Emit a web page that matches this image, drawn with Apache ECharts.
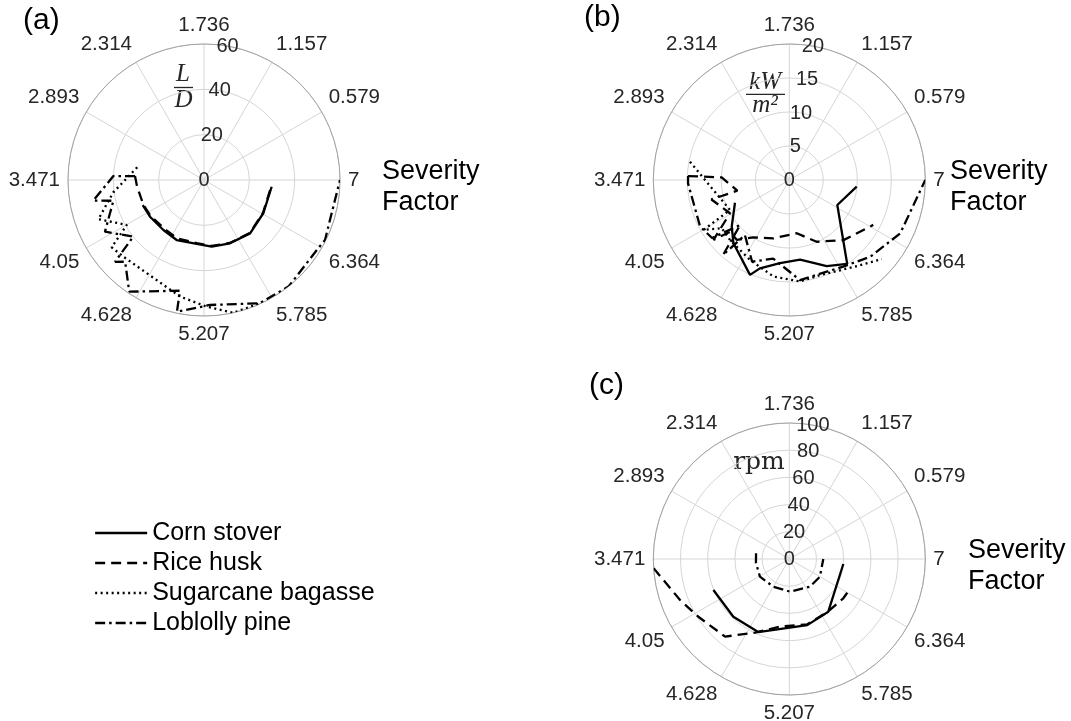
<!DOCTYPE html>
<html><head><meta charset="utf-8">
<script src="https://cdn.jsdelivr.net/npm/echarts@6/dist/echarts.min.js"></script>
<style>html,body{margin:0;padding:0;background:#fff}#c{width:1071px;height:721px}</style>
</head><body><div id="c"></div>
<script>
// ---- angle (severity factor) axis ----
const SF_STEP = 0.57855;               // one 30-degree sector
const SF_MAX = 12 * SF_STEP;           // full turn
const ANG_MIN = 3 * SF_STEP;           // value at the top (90 deg)
const ANGLE_LABELS = ['1.736','2.314','2.893','3.471','4.05','4.628','5.207','5.785','6.364','7','0.579','1.157'];
const SERIES_NAMES = ['Corn stover','Rice husk','Sugarcane bagasse','Loblolly pine'];

// ---- (a) L/D  : [severity factor, value] ----
const a_corn  = [[3.900,29.2],[4.131,28.8],[4.453,28.4],[4.735,29.1],[5.082,28.4],[5.334,29.6],[5.637,30.2],[5.994,31.1],[6.378,30.0],[6.833,30.0]];
const a_rice  = [[3.408,30.5],[3.570,29.7],[3.900,28.9],[4.131,28.4],[4.453,27.7],[4.735,28.3],[5.082,28.0],[5.334,29.3],[5.637,30.0],[5.994,30.9],[6.378,29.8],[6.833,29.8]];
const a_sugar = [[3.263,30.0],[3.621,40.4],[3.864,49.7],[4.054,39.4],[4.167,50.4],[4.310,49.1],[4.983,52.5],[5.231,55.9],[5.446,60.0],[5.677,59.7]];
const a_lob   = [[3.408,30.5],[3.423,40.0],[3.675,49.7],[3.720,41.0],[4.003,49.3],[4.217,40.0],[4.293,53.3],[4.359,50.1],[4.555,59.3],[4.971,50.0],[4.983,59.3],[5.260,55.2],[5.677,59.7],[5.951,60.0],[6.347,58.7],[6.434,59.6],[6.604,58.3],[6.943,60.0]];

// ---- (b) kW/m^2 ----
const b_corn  = [[3.909,8.66],[4.224,10.9],[4.407,12.4],[4.773,15.1],[4.852,13.7],[5.084,12.3],[5.356,11.8],[5.660,13.8],[5.874,15.0],[6.412,7.96],[6.833,9.96]];
const b_rice  = [[3.428,14.9],[3.428,9.95],[3.695,7.8],[3.742,11.8],[4.036,10.0],[4.210,14.2],[4.264,11.6],[4.413,11.7],[4.588,9.95],[4.912,8.9],[5.360,7.9],[5.668,9.93],[6.017,11.9],[6.400,14.0]];
const b_sugar = [[3.270,14.85],[3.988,9.78],[4.054,14.6],[4.156,12.2],[4.346,12.4],[4.702,13.1],[5.030,14.4],[5.323,15.0],[5.552,14.7],[5.910,15.9],[6.160,17.9]];
const b_lob   = [[3.428,14.9],[3.508,14.9],[4.003,14.8],[4.183,14.2],[4.290,9.8],[4.407,14.7],[4.457,10.4],[4.735,13.2],[4.984,11.8],[5.325,14.8],[5.823,15.0],[6.103,16.4],[6.447,18.1],[6.943,20.0]];

// ---- (c) rpm ----
const c_corn  = [[3.900,60.3],[4.356,59.1],[4.762,58.4],[5.500,50.4],[5.911,48.2],[6.841,39.9]];
const c_rice  = [[3.547,100],[3.868,85.8],[4.096,79.2],[4.443,74.1],[4.725,59.7],[5.056,50.2],[5.500,49.8],[5.911,48.0],[6.248,49.1],[6.417,49.6]];
const c_lob   = [[3.284,24.8],[3.600,24.7],[4.071,25.2],[4.628,23.5],[5.230,24.0],[5.916,25.4],[6.364,26.0],[6.943,25.0]];

const R_MAX = [60, 20, 100];
const R_INT = [20, 5, 20];

const PANELS = [
  {center:[204,180],   series:[a_corn,a_rice,a_sugar,a_lob]},
  {center:[789.3,180], series:[b_corn,b_rice,b_sugar,b_lob]},
  {center:[789.3,559], series:[c_corn,c_rice,null,c_lob]}
];
const RADIUS = 136;
const LINE_TYPES = ['solid',[10,6],[2,3.5],[10,4,2.5,4]];
const SANS = '"Liberation Sans", Arial, Helvetica, sans-serif';
const SERIF = '"Liberation Serif", "DejaVu Serif", serif';
const LABEL_COLOR = '#262626';

const polar = [], angleAxis = [], radiusAxis = [], series = [];
PANELS.forEach((p, i) => {
  polar.push({center:p.center, radius:RADIUS});
  polar.push({center:p.center, radius:RADIUS});
  angleAxis.push({
    polarIndex:2*i, type:'value', min:ANG_MIN, max:ANG_MIN+SF_MAX, interval:SF_STEP,
    startAngle:90, clockwise:false,
    axisLine:{show:true, lineStyle:{color:'#a3a3a3', width:1}},
    axisTick:{show:false},
    splitLine:{show:true, lineStyle:{color:'#d6d6d6', width:1}},
    axisLabel:{margin:8, fontSize:20.5, color:LABEL_COLOR, fontFamily:SANS,
      formatter:(v)=>{const k=Math.round((v-ANG_MIN)/SF_STEP); return k>=12?'':ANGLE_LABELS[k];}}
  });
  radiusAxis.push({
    polarIndex:2*i, type:'value', min:0, max:R_MAX[i], interval:R_INT[i],
    axisLine:{show:false}, axisTick:{show:false}, axisLabel:{show:false},
    splitLine:{show:true, lineStyle:{color:'#d6d6d6', width:1}}
  });
  // overlay polar only carrying the radius labels along the 80-degree ray
  angleAxis.push({polarIndex:2*i+1, type:'value', min:0, max:360, startAngle:80, show:false});
  radiusAxis.push({
    polarIndex:2*i+1, type:'value', min:0, max:R_MAX[i], interval:R_INT[i],
    axisLine:{show:false}, axisTick:{show:false}, splitLine:{show:false},
    axisLabel:{show:true, margin:0, align:'center', verticalAlign:'middle', fontSize:20, color:LABEL_COLOR, fontFamily:SANS}
  });
  p.series.forEach((arr, k) => {
    if (!arr) return;
    series.push({
      type:'line', name:SERIES_NAMES[k], coordinateSystem:'polar', polarIndex:2*i,
      data:arr.map(d=>[d[1], d[0]]), symbol:'none', showSymbol:false, silent:true,
      itemStyle:{color:'#000'},
      lineStyle:{color:'#000', width:2.3, type:LINE_TYPES[k]}
    });
  });
});

function txt(text, x, y, font, align, valign, extra) {
  return {type:'text', silent:true, style:Object.assign({text, x, y, font, fill:'#000', align, verticalAlign:valign}, extra||{})};
}
const sevFont = '27px ' + SANS;
const graphic = [
  txt('(a)', 23, 6, '30px '+SANS, 'left', 'top'),
  txt('(b)', 584, 3, '30px '+SANS, 'left', 'top'),
  txt('(c)', 589, 371, '30px '+SANS, 'left', 'top'),
  txt('Severity\nFactor', 382, 156, sevFont, 'left', 'top', {lineHeight:31}),
  txt('Severity\nFactor', 950, 156, sevFont, 'left', 'top', {lineHeight:31}),
  txt('Severity\nFactor', 968, 535, sevFont, 'left', 'top', {lineHeight:31}),
  // (a) L/D
  txt('L', 183, 74, 'italic 25px '+SERIF, 'center', 'middle', {fill:LABEL_COLOR}),
  {type:'line', silent:true, shape:{x1:174, y1:87.5, x2:193, y2:87.5}, style:{stroke:LABEL_COLOR, lineWidth:1.3}},
  txt('D', 183.5, 100, 'italic 25px '+SERIF, 'center', 'middle', {fill:LABEL_COLOR}),
  // (b) kW/m^2
  txt('kW', 765, 82, 'italic 25px '+SERIF, 'center', 'middle', {fill:LABEL_COLOR}),
  {type:'line', silent:true, shape:{x1:746, y1:94.3, x2:785, y2:94.3}, style:{stroke:LABEL_COLOR, lineWidth:1.3}},
  txt('m²', 765, 105, 'italic 25px '+SERIF, 'center', 'middle', {fill:LABEL_COLOR}),
  // (c) rpm
  txt('rpm', 759, 462, '25px "DejaVu Serif", serif', 'center', 'middle', {fill:LABEL_COLOR})
];

const legendStyles = SERIES_NAMES.map((n,k)=>({
  name:n,
  itemStyle:{color:'rgba(0,0,0,0)', borderColor:'rgba(0,0,0,0)', borderWidth:0},
  lineStyle:{color:'#000', width:2.3, type:LINE_TYPES[k]}
}));

const chart = echarts.init(document.getElementById('c'), null, {renderer:'canvas'});
chart.setOption({
  animation:false,
  backgroundColor:'#fff',
  polar, angleAxis, radiusAxis, series, graphic,
  legend:{
    orient:'vertical', left:89, top:515, itemWidth:52, itemHeight:14, itemGap:4,
    selectedMode:false,
    itemStyle:{color:'rgba(0,0,0,0)', borderColor:'rgba(0,0,0,0)', borderWidth:0},
    textStyle:{fontSize:25, color:'#000', fontFamily:SANS, lineHeight:26},
    data:legendStyles
  }
});
</script></body></html>
